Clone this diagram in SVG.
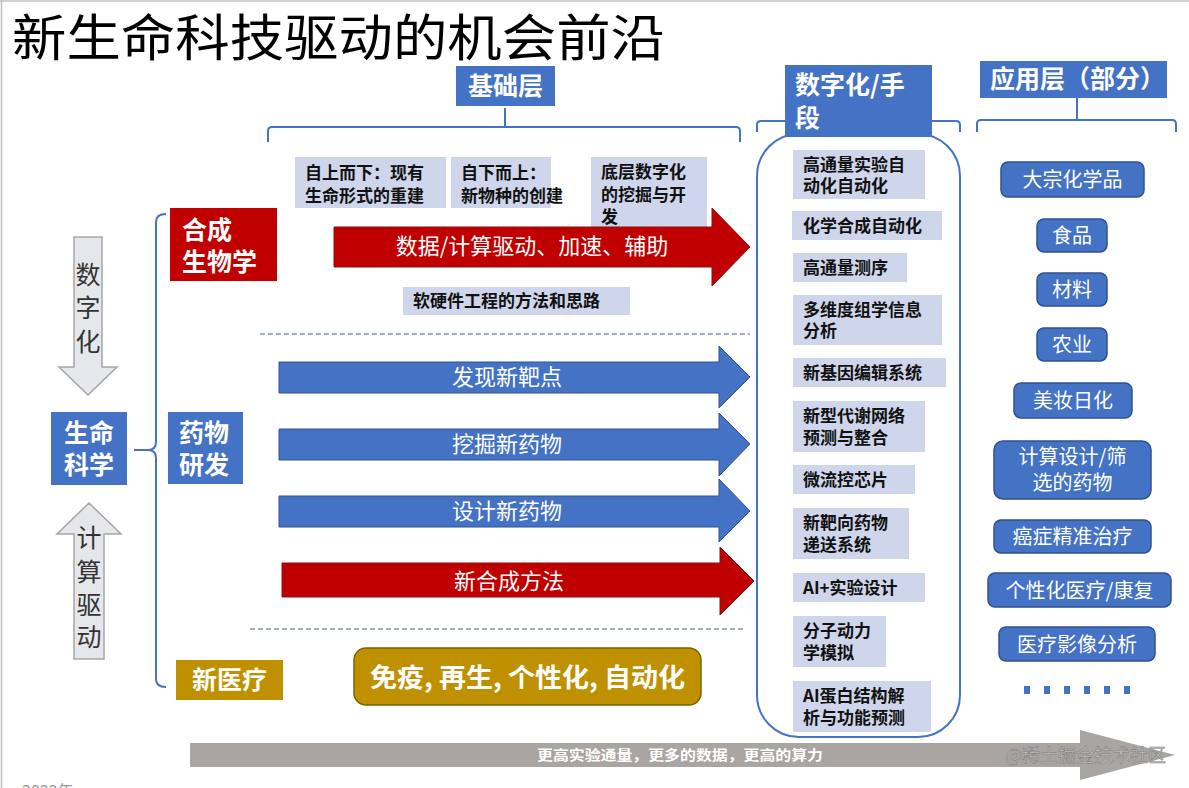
<svg xmlns="http://www.w3.org/2000/svg" width="1189" height="788" viewBox="0 0 1189 788">
<style>
text{font-family:"Noto Sans CJK SC","Liberation Sans",sans-serif;}
.frame{stroke:#C0C0C0;stroke-width:1.5;fill:none}
.br{fill:none;stroke:#4472C4;stroke-width:2}
.hdr{fill:#4472C4}
.hdrt{fill:#fff;font-weight:700;font-size:25px}
.gb{fill:#CFD5EA}
.gt{fill:#111;font-weight:700;font-size:17px}
.app{fill:#4472C4;stroke:#2F528F;stroke-width:1.5}
.appt{fill:#fff;font-size:20px;text-anchor:middle}
.barr{fill:#4472C4;stroke:#2F528F;stroke-width:1}
.rarr{fill:#C00000;stroke:#8B1010;stroke-width:1}
.at{fill:#fff;font-size:22px;text-anchor:middle}
.cat{fill:#fff;font-weight:700;font-size:25px}
.garr{fill:#E6E7EA;stroke:#A6A6A6;stroke-width:1.5}
.vt{fill:#333;font-size:25px;text-anchor:middle}
.dash{stroke:#8496B0;stroke-width:1.5;stroke-dasharray:5,3;fill:none}
</style>

<rect x="0" y="0" width="1189" height="788" fill="#fff"/>
<line class="frame" x1="1.5" y1="0" x2="1.5" y2="788"/>
<line class="frame" x1="0" y1="1" x2="1189" y2="1"/>

<g id="title">
<text x="12" y="56" font-size="50" fill="#000" textLength="653" lengthAdjust="spacingAndGlyphs">新生命科技驱动的机会前沿</text>
</g>

<g id="connectors">
<path class="br" d="M268,142 L268,131 Q268,127 272,127 L736,127 Q740,127 740,131 L740,142 M505,127 L505,108"/>
<path class="br" d="M757,132 L757,125 Q757,121 761,121 L956,121 Q960,121 960,125 L960,132"/>
<path class="br" d="M977,132 L977,124 Q977,120 981,120 L1172,120 Q1176,120 1176,124 L1176,132 M1077,120 L1077,98"/>
<path class="br" d="M166,214 Q156,214 156,222 L156,442 Q156,450 148,450 L134,450 M148,450 Q156,450 156,458 L156,679 Q156,687 166,687"/>
<line class="dash" x1="260" y1="334" x2="750" y2="334"/>
<line class="dash" x1="250" y1="629" x2="744" y2="629"/>
</g>

<g id="digital-container">
<rect x="757" y="134" width="203" height="603" rx="42" fill="none" stroke="#4472C4" stroke-width="2"/>
</g>

<g id="header-jichu">
<rect class="hdr" x="456" y="66" width="99" height="40"/>
<text class="hdrt" x="505.5" y="95" text-anchor="middle">基础层</text>
</g>
<g id="header-shuzi">
<rect class="hdr" x="785" y="65" width="147" height="72"/>
<text class="hdrt" x="795" y="94">数字化/手</text>
<text class="hdrt" x="795" y="127">段</text>
</g>
<g id="header-yingyong">
<rect class="hdr" x="980" y="61" width="187" height="37"/>
<text class="hdrt" x="990" y="88">应用层（部分）</text>
</g>

<g id="arrow-shuzihua">
<polygon class="garr" points="74,237 102,237 102,367 117,367 88,395 59,367 74,367"/>
<text class="vt" x="88" y="284">数</text>
<text class="vt" x="88" y="317">字</text>
<text class="vt" x="88" y="351">化</text>
</g>
<g id="node-shengming">
<rect class="hdr" x="51" y="412" width="76" height="73"/>
<text class="cat" x="89" y="442" text-anchor="middle">生命</text>
<text class="cat" x="89" y="474" text-anchor="middle">科学</text>
</g>
<g id="arrow-jisuan">
<polygon class="garr" points="89,503 121,534 104,534 104,659 74,659 74,534 57,534"/>
<text class="vt" x="89" y="547">计</text>
<text class="vt" x="89" y="581">算</text>
<text class="vt" x="89" y="614">驱</text>
<text class="vt" x="89" y="646">动</text>
</g>

<g id="node-hecheng">
<rect x="170" y="208" width="107" height="73" fill="#C00000"/>
<text class="cat" x="182" y="239">合成</text>
<text class="cat" x="182" y="271">生物学</text>
</g>
<g id="node-yaowu">
<rect class="hdr" x="168" y="412" width="75" height="72"/>
<text class="cat" x="179" y="442">药物</text>
<text class="cat" x="179" y="474">研发</text>
</g>
<g id="node-xinyiliao">
<rect x="176" y="660" width="107" height="40" fill="#BF9000"/>
<text class="cat" x="229.5" y="689" text-anchor="middle">新医疗</text>
</g>

<g id="box-zishang">
<rect class="gb" x="295" y="157" width="151" height="51"/>
<text class="gt" x="305" y="179">自上而下：现有</text>
<text class="gt" x="305" y="202">生命形式的重建</text>
</g>
<g id="box-zixia">
<rect class="gb" x="451" y="157" width="100" height="51"/>
<text class="gt" x="461" y="179">自下而上：</text>
<text class="gt" x="461" y="202">新物种的创建</text>
</g>
<g id="box-diceng">
<rect class="gb" x="591" y="157" width="116" height="70"/>
<text class="gt" x="601" y="178">底层数字化</text>
<text class="gt" x="601" y="201">的挖掘与开</text>
<text class="gt" x="601" y="223">发</text>
</g>

<g id="arrow-shuju">
<polygon class="rarr" points="334,227 712,227 712,208 750,247 712,286 712,267 334,267"/>
<text class="at" x="532" y="254" font-size="20">数据/计算驱动、加速、辅助</text>
</g>

<g id="box-ruanyingjian">
<rect class="gb" x="403" y="287" width="227" height="28"/>
<text class="gt" x="413" y="307">软硬件工程的方法和思路</text>
</g>

<g id="arrow-faxian">
<polygon class="barr" points="279,362 719,362 719,346 750,377 719,408 719,393 279,393"/>
<text class="at" x="507" y="385">发现新靶点</text>
</g>
<g id="arrow-wajue">
<polygon class="barr" points="279,429 719,429 719,413 750,444 719,476 719,460 279,460"/>
<text class="at" x="507" y="452">挖掘新药物</text>
</g>
<g id="arrow-sheji">
<polygon class="barr" points="279,496 719,496 719,479 750,511 719,542 719,527 279,527"/>
<text class="at" x="507" y="519">设计新药物</text>
</g>
<g id="arrow-xinhecheng">
<polygon class="rarr" points="282,563 720,563 720,547 754,581 720,615 720,597 282,597"/>
<text class="at" x="509" y="589">新合成方法</text>
</g>

<g id="box-mianyi">
<rect x="354" y="648" width="347" height="57" rx="12" fill="#BF9000" stroke="#7F6000" stroke-width="1.5"/>
<text x="370" y="687" fill="#fff" font-weight="700" font-size="26" textLength="315" lengthAdjust="spacingAndGlyphs">免疫, 再生, 个性化, 自动化</text>
</g>

<g id="tool-1"><rect class="gb" x="793" y="150" width="132" height="49"/><text class="gt" x="803" y="171">高通量实验自</text><text class="gt" x="803" y="192">动化自动化</text></g>
<g id="tool-2"><rect class="gb" x="792" y="211" width="150" height="29"/><text class="gt" x="803" y="232">化学合成自动化</text></g>
<g id="tool-3"><rect class="gb" x="793" y="253" width="114" height="29"/><text class="gt" x="803" y="274">高通量测序</text></g>
<g id="tool-4"><rect class="gb" x="793" y="295" width="149" height="50"/><text class="gt" x="803" y="316">多维度组学信息</text><text class="gt" x="803" y="337">分析</text></g>
<g id="tool-5"><rect class="gb" x="793" y="358" width="153" height="29"/><text class="gt" x="803" y="379">新基因编辑系统</text></g>
<g id="tool-6"><rect class="gb" x="793" y="401" width="132" height="51"/><text class="gt" x="803" y="422">新型代谢网络</text><text class="gt" x="803" y="444">预测与整合</text></g>
<g id="tool-7"><rect class="gb" x="793" y="465" width="122" height="29"/><text class="gt" x="803" y="486">微流控芯片</text></g>
<g id="tool-8"><rect class="gb" x="793" y="508" width="116" height="51"/><text class="gt" x="803" y="529">新靶向药物</text><text class="gt" x="803" y="551">递送系统</text></g>
<g id="tool-9"><rect class="gb" x="793" y="573" width="132" height="29"/><text class="gt" x="803" y="594">AI+实验设计</text></g>
<g id="tool-10"><rect class="gb" x="793" y="616" width="93" height="51"/><text class="gt" x="803" y="637">分子动力</text><text class="gt" x="803" y="659">学模拟</text></g>
<g id="tool-11"><rect class="gb" x="793" y="681" width="138" height="51"/><text class="gt" x="803" y="702">AI蛋白结构解</text><text class="gt" x="803" y="724">析与功能预测</text></g>

<g id="app-1"><rect class="app" x="1001" y="162" width="143" height="35" rx="7"/><text class="appt" x="1072.5" y="187">大宗化学品</text></g>
<g id="app-2"><rect class="app" x="1037" y="219" width="70" height="33" rx="7"/><text class="appt" x="1072" y="243">食品</text></g>
<g id="app-3"><rect class="app" x="1037" y="273" width="70" height="33" rx="7"/><text class="appt" x="1072" y="297">材料</text></g>
<g id="app-4"><rect class="app" x="1037" y="328" width="70" height="33" rx="7"/><text class="appt" x="1072" y="352">农业</text></g>
<g id="app-5"><rect class="app" x="1014" y="383" width="118" height="35" rx="7"/><text class="appt" x="1073" y="408">美妆日化</text></g>
<g id="app-6"><rect class="app" x="994" y="441" width="157" height="58" rx="9"/><text class="appt" x="1072.5" y="464">计算设计/筛</text><text class="appt" x="1072.5" y="490">选的药物</text></g>
<g id="app-7"><rect class="app" x="994" y="520" width="157" height="33" rx="7"/><text class="appt" x="1072.5" y="544">癌症精准治疗</text></g>
<g id="app-8"><rect class="app" x="988" y="573" width="183" height="34" rx="7"/><text class="appt" x="1079.5" y="598">个性化医疗/康复</text></g>
<g id="app-9"><rect class="app" x="999" y="627" width="156" height="34" rx="7"/><text class="appt" x="1077" y="652">医疗影像分析</text></g>
<g id="app-more" fill="#4472C4">
<rect x="1024" y="686" width="6" height="8"/><rect x="1044" y="686" width="6" height="8"/><rect x="1064" y="686" width="6" height="8"/><rect x="1084" y="686" width="6" height="8"/><rect x="1104" y="686" width="6" height="8"/><rect x="1124" y="686" width="6" height="8"/>
</g>

<g id="arrow-bottom">
<polygon points="190,743 1080,743 1080,730 1175,755 1080,780 1080,767 190,767" fill="#A8A5A3"/>
<text x="680" y="760" fill="#fff" font-weight="700" font-size="14" text-anchor="middle" textLength="286" lengthAdjust="spacingAndGlyphs">更高实验通量，更多的数据，更高的算力</text>
</g>

<g id="watermark">
<text x="1005" y="762" font-size="18" fill="#C4C4C4" stroke="#7A7A7A" stroke-width="0.5">@稀土掘金技术社区</text>
</g>
<g id="footer">
<text x="22" y="797" font-size="16" fill="#999">2022年</text>
</g>
</svg>
